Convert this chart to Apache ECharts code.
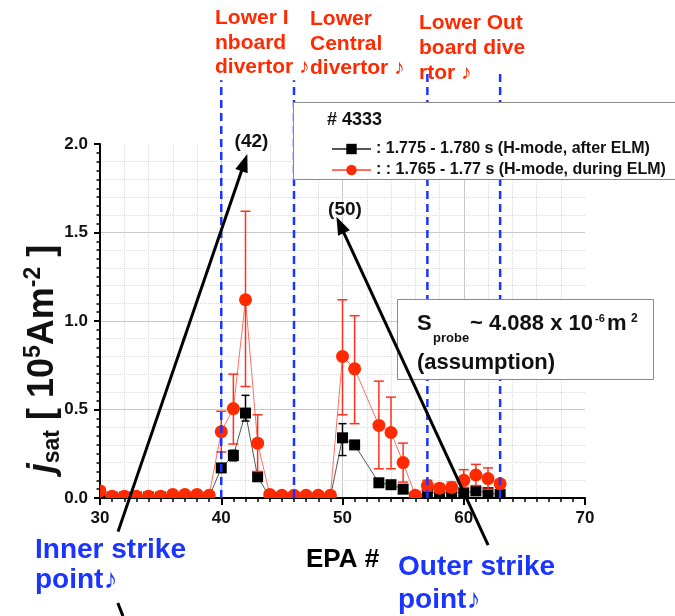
<!DOCTYPE html>
<html><head><meta charset="utf-8">
<script src="https://cdn.jsdelivr.net/npm/echarts@6/dist/echarts.min.js"></script>
<style>html,body{margin:0;padding:0;background:#fff}#c{width:675px;height:616px}</style>
</head><body><div id="c"></div>
<script>
// ---------- data ----------
const epa = [30,31,32,33,34,35,36,37,38,39,40,41,42,43,44,45,46,47,48,49,50,51,53,54,55,56,57,58,59,60,61,62,63];
// black squares: 1.775 - 1.780 s (H-mode, after ELM)
const afterELM  = [0.005,0.005,0.005,0.005,0.005,0.005,0.005,0.005,0.005,0.005,0.17,0.24,0.48,0.12,0.005,0.005,0.005,0.005,0.005,0.005,0.34,0.30,0.086,0.075,0.05,0.005,0.03,0.03,0.03,0.03,0.04,0.03,0.02];
const afterLow  = [null,null,null,null,null,null,null,null,null,null,null,0.21,0.435,null,null,null,null,null,null,null,0.24,null,null,null,null,null,null,null,null,null,null,null,null];
const afterHigh = [null,null,null,null,null,null,null,null,null,null,null,0.27,0.58,null,null,null,null,null,null,null,0.42,null,null,null,null,null,null,null,null,null,null,null,null];
// red circles: 1.765 - 1.77 s (H-mode, during ELM)
const duringELM  = [0.04,0.01,0.01,0.01,0.01,0.01,0.02,0.02,0.02,0.015,0.375,0.505,1.12,0.31,0.02,0.015,0.015,0.015,0.015,0.015,0.80,0.73,0.41,0.37,0.20,0.015,0.07,0.055,0.06,0.10,0.13,0.11,0.08];
const duringLow  = [null,null,null,null,null,null,null,null,null,null,0.26,0.305,0.63,0.15,null,null,null,null,null,null,0.47,0.42,0.165,0.165,0.09,null,0.04,0.03,0.035,0.06,0.07,0.05,0.06];
const duringHigh = [null,null,null,null,null,null,null,null,null,null,0.49,0.70,1.62,0.47,null,null,null,null,null,null,1.12,1.03,0.66,0.57,0.31,null,0.10,0.08,0.09,0.16,0.19,0.17,0.10];
const afterName  = ': 1.775 - 1.780 s (H-mode, after ELM)';
const duringName = ': : 1.765 - 1.77 s (H-mode, during ELM)';
const xTickLabels = [30,40,50,60,70];
const yTickLabels = ['0.0','0.5','1.0','1.5','2.0'];
// divertor region boundaries (EPA #) and how far above the axes the dashed line reaches
const dividerX   = [40,46,57,63];
const dividerTop = [2.36,2.36,2.41,2.41];
// annotation arrows in data coordinates [tail, tip]
const innerArrow = [[31.49,-0.19],[42.15,1.943]];
const outerArrow = [[62.01,-0.266],[49.5,1.589]];
const extraSeg   = [[31.47,-0.593],[31.89,-0.667]];

const FF = '"Liberation Sans", Arial, sans-serif';
const RED = '#ff2a00', BLUE = '#1a35ff';

function symbolRender(kind, lowArr, highArr, color, cap) {
  return function (params, api) {
    const i = params.dataIndex;
    const p = api.coord([api.value(0), api.value(1)]);
    const ch = [];
    if (lowArr[i] != null && highArr[i] != null) {
      const a = api.coord([api.value(0), lowArr[i]]);
      const b = api.coord([api.value(0), highArr[i]]);
      const st = {stroke: color, lineWidth: 1.5};
      ch.push({type:'line', shape:{x1:a[0],y1:a[1],x2:b[0],y2:b[1]}, style:st});
      ch.push({type:'line', shape:{x1:a[0]-cap,y1:a[1],x2:a[0]+cap,y2:a[1]}, style:st});
      ch.push({type:'line', shape:{x1:b[0]-cap,y1:b[1],x2:b[0]+cap,y2:b[1]}, style:st});
    }
    if (kind === 'circle') {
      ch.push({type:'circle', shape:{cx:p[0], cy:p[1], r:6.5}, style:{fill:RED}});
    } else {
      ch.push({type:'rect', shape:{x:p[0]-5.5, y:p[1]-5.5, width:11, height:11}, style:{fill:'#000'}});
    }
    return {type:'group', children: ch};
  };
}

const chart = echarts.init(document.getElementById('c'), null, {renderer:'canvas'});
const option = {
  animation: false,
  textStyle: {fontFamily: FF},
  grid: {left: 100, right: 90, top: 144, bottom: 118, containLabel: false},
  legend: {
    data: [afterName, duringName], orient: 'vertical', left: 326, top: 134.5,
    itemWidth: 39, itemHeight: 13, itemGap: 2, z: 101,
    textStyle: {fontFamily: FF, fontWeight: 'bold', fontSize: 16, color: '#111', lineHeight: 19}
  },
  xAxis: [{
    type: 'value', min: 30, max: 70, interval: 10,
    axisLine: {lineStyle: {color: '#000', width: 2}},
    axisTick: {length: 7, lineStyle: {color: '#000', width: 2}},
    minorTick: {show: true, splitNumber: 10, length: 4, lineStyle: {color: '#000', width: 1.5}},
    splitLine: {show: true, showMaxLine: false, lineStyle: {color: '#c8c8c8', width: 1}},
    axisLabel: {margin: 12, fontSize: 17, fontWeight: 'bold', color: '#111', fontFamily: FF,
      formatter: v => { const k = xTickLabels.indexOf(v); return k >= 0 ? String(xTickLabels[k]) : ''; }},
    name: 'EPA #', nameLocation: 'middle', nameGap: 49,
    nameTextStyle: {fontSize: 26, fontWeight: 'bold', color: '#000', fontFamily: FF}
  }, {
    type: 'value', min: 30, max: 70, interval: 2, gridIndex: 0, z: -1,
    axisLine: {show: false}, axisTick: {show: false}, axisLabel: {show: false},
    splitLine: {show: true, showMinLine: false, showMaxLine: false, lineStyle: {color: '#dcdcdc', type: 'dotted', width: 1}}
  }],
  yAxis: [{
    type: 'value', min: 0, max: 2, interval: 0.5,
    axisLine: {show: true, lineStyle: {color: '#000', width: 2}},
    axisTick: {show: true, length: 6, lineStyle: {color: '#000', width: 2}},
    minorTick: {show: true, splitNumber: 10, length: 3.5, lineStyle: {color: '#000', width: 1.5}},
    splitLine: {show: true, showMinLine: false, showMaxLine: false, lineStyle: {color: '#c8c8c8', width: 1}},
    axisLabel: {margin: 12, fontSize: 17, fontWeight: 'bold', color: '#111', fontFamily: FF,
      formatter: v => yTickLabels[Math.round(v / 0.5)] || ''}
  }, {
    type: 'value', min: 0, max: 2, interval: 0.1, z: -1,
    axisLine: {show: false}, axisTick: {show: false}, axisLabel: {show: false},
    splitLine: {show: true, showMinLine: false, showMaxLine: false, lineStyle: {color: '#dcdcdc', type: 'dotted', width: 1}}
  }],
  series: [
    {type:'line', name: afterName, data: epa.map((x,i)=>[x, afterELM[i]]),
     symbol:'rect', symbolSize: 11, showSymbol: false, itemStyle:{color:'#000'},
     lineStyle:{color:'#555', width:1}, z: 2},
    {type:'custom', name:'afterSym', data: epa.map((x,i)=>[x, afterELM[i]]), encode:{x:0,y:1},
     renderItem: symbolRender('rect', afterLow, afterHigh, '#000', 4), clip: true, z: 3},
    {type:'line', name: duringName, data: epa.map((x,i)=>[x, duringELM[i]]),
     symbol:'circle', symbolSize: 13, showSymbol: false, itemStyle:{color:RED},
     lineStyle:{color:'#ff7060', width:1}, z: 4},
    {type:'custom', name:'duringSym', data: epa.map((x,i)=>[x, duringELM[i]]), encode:{x:0,y:1},
     renderItem: symbolRender('circle', duringLow, duringHigh, '#ff3020', 5), clip: true, z: 5},
    {type:'custom', name:'dividers', data: dividerX.map((x,i)=>[x, dividerTop[i]]), encode:{x:0,y:1},
     clip: false, z: 6, silent: true,
     renderItem: (params, api) => {
       const a = api.coord([api.value(0), 0]);
       const b = api.coord([api.value(0), api.value(1)]);
       return {type:'line', shape:{x1:a[0],y1:a[1],x2:b[0],y2:b[1]},
               style:{stroke:BLUE, lineWidth:2.5, lineDash:[8,5]}};
     }}
  ]
};
chart.setOption(option);

const px = p => chart.convertToPixel({gridIndex: 0}, p);
function arrow(seg, z) {
  const a = px(seg[0]), b = px(seg[1]);
  const dx = b[0]-a[0], dy = b[1]-a[1], L = Math.hypot(dx, dy), ux = dx/L, uy = dy/L;
  const hl = 18, hw = 6.5;
  const bx = b[0]-ux*hl, by = b[1]-uy*hl;
  return [
    {type:'line', z, shape:{x1:a[0],y1:a[1],x2:bx+ux*3,y2:by+uy*3}, style:{stroke:'#000', lineWidth:3}},
    {type:'polygon', z, shape:{points:[[b[0],b[1]],[bx-uy*hw,by+ux*hw],[bx+uy*hw,by-ux*hw]]}, style:{fill:'#000'}}
  ];
}
function txt(text, x, y, size, color, opts) {
  return Object.assign({type:'text', x, y, z: 120,
    style: Object.assign({text, fill: color, font: 'bold ' + size + 'px ' + FF,
      align: 'left', verticalAlign: 'top'}, (opts && opts.style) || {})}, (opts && opts.el) || {});
}
const sA = px(extraSeg[0]), sB = px(extraSeg[1]);
const graphics = [
  // legend frame
  {type:'rect', z: 100, shape:{x:293.5, y:102.5, width:400, height:77}, style:{fill:'#fff', stroke:'#8a8a8a', lineWidth:1}},
  txt('# 4333', 327, 111, 18, '#111', {style:{lineHeight:18}}),
  // S_probe box
  {type:'rect', z: 100, shape:{x:397.5, y:299.5, width:256, height:80}, style:{fill:'#fff', stroke:'#8a8a8a', lineWidth:1}},
  txt('S', 417, 324, 22, '#111', {style:{verticalAlign:'middle'}}),
  txt('probe', 433, 338, 13, '#111', {style:{verticalAlign:'middle'}}),
  txt('~ 4.088 x 10', 470, 324, 22, '#111', {style:{verticalAlign:'middle'}}),
  txt('-6', 595, 319, 11, '#111', {style:{verticalAlign:'middle'}}),
  txt('m', 607, 324, 22, '#111', {style:{verticalAlign:'middle'}}),
  txt('2', 631, 319, 12, '#111', {style:{verticalAlign:'middle'}}),
  txt('(assumption)', 417, 362.5, 22, '#111', {style:{verticalAlign:'middle'}}),
  // top region labels
  txt('Lower I\nnboard\ndivertor \u266A', 215, 6, 21, RED, {style:{lineHeight:24.5}}),
  txt('Lower\nCentral\ndivertor \u266A', 310, 7, 21, RED, {style:{lineHeight:24.5}}),
  txt('Lower Out\nboard dive\nrtor \u266A', 419, 10.5, 21, RED, {style:{lineHeight:25}}),
  // strike point labels
  txt('Inner strike\npoint\u266A', 35, 535.5, 28, BLUE, {style:{lineHeight:30}}),
  txt('Outer strike\npoint\u266A', 398, 551, 28, BLUE, {style:{lineHeight:33}}),
  // EPA markers
  txt('(42)', 251.5, 141.5, 19, '#111', {style:{align:'center', verticalAlign:'middle'}}),
  txt('(50)', 345, 210, 19, '#111', {style:{align:'center', verticalAlign:'middle'}}),
  // y axis title
  {type:'text', z: 120, x: 43, y: 359, rotation: Math.PI/2,
   style:{text:'{j|j}{sub|sat}{a| [ 10}{sup|5}{a|Am}{sup|-2}{a| ]}', align:'center', verticalAlign:'middle',
     fill:'#111', font:'bold 36px ' + FF,
     rich:{
       j:{fontFamily:FF, fontStyle:'italic', fontWeight:'bold', fontSize:36, lineHeight:42, fill:'#111'},
       a:{fontFamily:FF, fontWeight:'bold', fontSize:36, lineHeight:42, fill:'#111'},
       sub:{fontFamily:FF, fontWeight:'bold', fontSize:23, lineHeight:14, verticalAlign:'bottom', fill:'#111'},
       sup:{fontFamily:FF, fontWeight:'bold', fontSize:23, lineHeight:28, verticalAlign:'top', fill:'#111'}
     }}},
  {type:'line', z: 110, shape:{x1:sA[0],y1:sA[1],x2:sB[0],y2:sB[1]}, style:{stroke:'#000', lineWidth:3}}
].concat(arrow(innerArrow, 110), arrow(outerArrow, 110));
chart.setOption({graphic: graphics});
</script>
</body></html>
